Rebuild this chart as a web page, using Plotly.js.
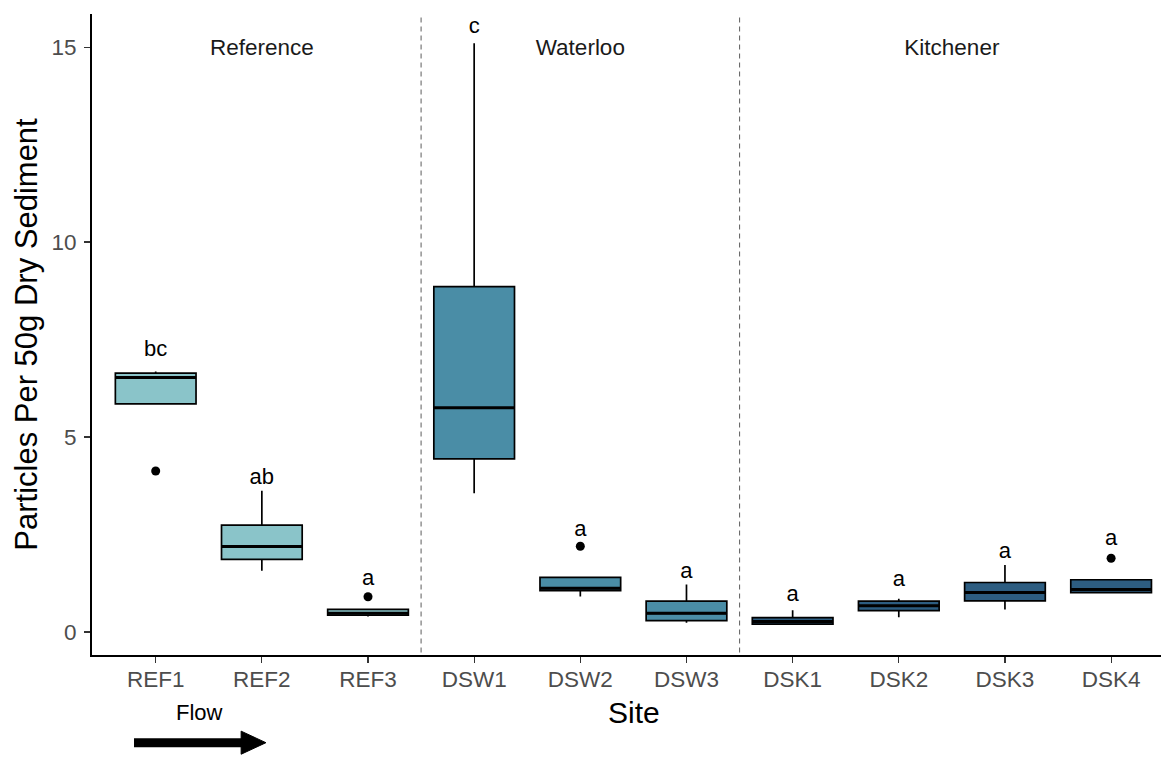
<!DOCTYPE html>
<html>
<head>
<meta charset="utf-8">
<script src="https://cdn.plot.ly/plotly-3.0.1.min.js"></script>
<style>
  html, body { margin: 0; padding: 0; background: #ffffff; }
  #chart { width: 1161px; height: 757px; }
</style>
</head>
<body>
<div id="chart"></div>
<script>
// Sampling sites, in downstream order
const sites = ['REF1', 'REF2', 'REF3', 'DSW1', 'DSW2', 'DSW3', 'DSK1', 'DSK2', 'DSK3', 'DSK4'];

// Box statistics (particles per 50 g dry sediment)
const lowerWhisker = [5.85, 1.57, 0.40, 3.56, 0.91, 0.24, 0.20, 0.38, 0.58, 1.01];
const q1           = [5.85, 1.86, 0.43, 4.44, 1.06, 0.29, 0.20, 0.55, 0.80, 1.01];
const medians      = [6.53, 2.19, 0.48, 5.75, 1.12, 0.48, 0.27, 0.67, 1.01, 1.09];
const q3           = [6.64, 2.74, 0.58, 8.86, 1.40, 0.79, 0.37, 0.79, 1.27, 1.34];
const upperWhisker = [6.68, 3.62, 0.58, 15.10, 1.40, 1.22, 0.56, 0.85, 1.72, 1.34];

// Outlying samples
const outlierSites  = ['REF1', 'REF3', 'DSW2', 'DSK4'];
const outlierValues = [4.13, 0.905, 2.20, 1.89];

// Significance letters and their heights
const letters  = ['bc', 'ab', 'a', 'c', 'a', 'a', 'a', 'a', 'a', 'a'];
const letterY  = [7.22, 3.93, 1.34, 15.50, 2.61, 1.53, 0.93, 1.31, 2.05, 2.36];

// Site groups
const groupNames  = ['Reference', 'Waterloo', 'Kitchener'];
const groupSites  = [['REF1', 'REF2', 'REF3'], ['DSW1', 'DSW2', 'DSW3'], ['DSK1', 'DSK2', 'DSK3', 'DSK4']];
const groupColors = ['#8AC4C9', '#4A8DA6', '#2D5D81'];
const groupLabelY = 14.93;

const FONT = 'Liberation Sans, Arial, Helvetica, sans-serif';
const BOX_W = 0.76;
const pos = s => sites.indexOf(s);

const traces = [];

// One box trace per group, filled with the group colour
groupSites.forEach((members, g) => {
  const idx = members.map(pos);
  traces.push({
    type: 'box',
    x: idx,
    q1: idx.map(i => q1[i]),
    median: idx.map(i => medians[i]),
    q3: idx.map(i => q3[i]),
    lowerfence: idx.map(i => lowerWhisker[i]),
    upperfence: idx.map(i => upperWhisker[i]),
    boxpoints: false,
    width: BOX_W,
    whiskerwidth: 0,
    fillcolor: groupColors[g],
    line: { color: '#000000', width: 1.7 },
    hoverinfo: 'skip',
    showlegend: false
  });
});

// Heavier median bars
const medX = [], medY = [];
sites.forEach((s, i) => {
  medX.push(i - BOX_W / 2, i + BOX_W / 2, null);
  medY.push(medians[i], medians[i], null);
});
traces.push({
  type: 'scatter', mode: 'lines', x: medX, y: medY,
  line: { color: '#000000', width: 3 },
  hoverinfo: 'skip', showlegend: false
});

// Outliers
traces.push({
  type: 'scatter', mode: 'markers',
  x: outlierSites.map(pos), y: outlierValues,
  marker: { color: '#000000', size: 9 },
  hoverinfo: 'skip', showlegend: false
});

// Significance letters
traces.push({
  type: 'scatter', mode: 'text',
  x: sites.map((s, i) => i), y: letterY, text: letters,
  textposition: 'middle center',
  textfont: { family: FONT, size: 22, color: '#000000' },
  hoverinfo: 'skip', showlegend: false
});

// Group names, centred over each group
const groupCentre = groupSites.map(m => {
  const idx = m.map(pos);
  return idx.length % 2 ? idx[(idx.length - 1) / 2] : (idx[0] + idx[idx.length - 1]) / 2;
});
traces.push({
  type: 'scatter', mode: 'text',
  x: groupCentre, y: groupNames.map(() => groupLabelY), text: groupNames,
  textposition: 'middle center',
  textfont: { family: FONT, size: 22.5, color: '#1a1a1a' },
  hoverinfo: 'skip', showlegend: false
});

// Dashed separators between groups
const shapes = [];
let cum = 0;
groupSites.slice(0, -1).forEach(m => {
  cum += m.length;
  shapes.push({
    type: 'line', xref: 'x', yref: 'paper',
    x0: cum - 0.5, x1: cum - 0.5, y0: 0.004, y1: 1,
    line: { color: '#6b6b6b', width: 1.1, dash: '5px,4px' },
    layer: 'below'
  });
});

// Flow direction arrow under the first sites
shapes.push({
  type: 'line', xref: 'paper', yref: 'paper',
  x0: 0.0393, x1: 0.1460, y0: -0.1368, y1: -0.1368,
  line: { color: '#000000', width: 9 }
});
shapes.push({
  type: 'path', xref: 'paper', yref: 'paper',
  path: 'M 0.1395 -0.1188 L 0.1627 -0.1368 L 0.1395 -0.1548 Z',
  fillcolor: '#000000', line: { color: '#000000', width: 1 }
});

const layout = {
  width: 1161, height: 757,
  margin: { l: 92, r: 0, t: 14, b: 102 },
  paper_bgcolor: '#ffffff', plot_bgcolor: '#ffffff',
  font: { family: FONT },
  showlegend: false,
  xaxis: {
    range: [-0.6, 9.47],
    tickmode: 'array',
    tickvals: sites.map((s, i) => i),
    ticktext: sites,
    ticks: 'outside', ticklen: 6, tickwidth: 1.2, tickcolor: '#333333',
    ticklabelstandoff: -3,
    tickfont: { family: FONT, size: 22.5, color: '#4D4D4D' },
    showline: true, linecolor: '#000000', linewidth: 2,
    showgrid: false, zeroline: false, fixedrange: true
  },
  yaxis: {
    range: [-0.59, 15.85],
    tickvals: [0, 5, 10, 15],
    ticks: 'outside', ticklen: 6, tickwidth: 1.2, tickcolor: '#333333',
    ticklabelstandoff: 3,
    tickfont: { family: FONT, size: 22.5, color: '#4D4D4D' },
    showline: true, linecolor: '#000000', linewidth: 2,
    showgrid: false, zeroline: false, fixedrange: true,
    title: { text: 'Particles Per 50g Dry Sediment', font: { family: FONT, size: 31, color: '#000000' }, standoff: 5 }
  },
  shapes: shapes,
  annotations: [
    {
      text: 'Site', xref: 'paper', yref: 'paper', x: 0.507, y: -0.0897,
      xanchor: 'center', yanchor: 'middle', showarrow: false,
      font: { family: FONT, size: 30, color: '#000000' }
    },
    {
      text: 'Flow', xref: 'paper', yref: 'paper', x: 0.1001, y: -0.0897,
      xanchor: 'center', yanchor: 'middle', showarrow: false,
      font: { family: FONT, size: 22, color: '#000000' }
    }
  ]
};

Plotly.newPlot('chart', traces, layout, { displayModeBar: false, staticPlot: true });
</script>
</body>
</html>
